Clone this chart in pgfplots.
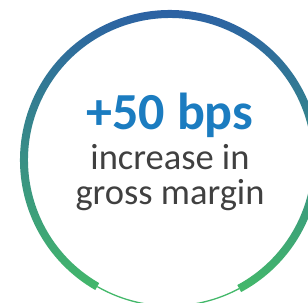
\documentclass[border=0pt]{standalone}
\usepackage{fontspec}
\setmainfont{Carlito}
\usepackage{pgfplots}
\pgfplotsset{compat=1.18}
\usetikzlibrary{calc}
\definecolor{cTop}{HTML}{2A5BA8}
\definecolor{cMid}{HTML}{2C9499}
\definecolor{cBot}{HTML}{43B86A}
\definecolor{cBlue}{HTML}{1B7CC0}
\definecolor{cGray}{HTML}{404040}
\begin{document}
\begin{tikzpicture}
\begin{axis}[
  width=308bp, height=303bp, scale only axis,
  xmin=0, xmax=308, ymin=0, ymax=303,
  hide axis, clip=true,
  clip bounding box=upper bound,
]
% ring: thick arc spans 301.8 deg, thin arc spans the remaining 58.2 deg
\shade[top color=cTop, middle color=cMid, bottom color=cBot]
  ($(axis cs:170,143)+(-61.7:150bp)$) arc[start angle=-61.7, end angle=240.1, radius=150bp]
  -- ($(axis cs:170,143)+(240.1:142bp)$) arc[start angle=240.1, end angle=-61.7, radius=142bp]
  -- cycle;
\draw[cBot, line width=1.3bp]
  ($(axis cs:170,143)+(240.1:146bp)$) arc[start angle=240.1, end angle=298.3, radius=146bp];
\node[anchor=base, text=cBlue, font=\fontsize{52bp}{52bp}\selectfont\bfseries, inner sep=0pt]
  at (axis cs:170,173) {+50 bps};
\node[anchor=base, text=cGray, font=\fontsize{36.5bp}{36.5bp}\selectfont, inner sep=0pt]
  at (axis cs:170,133) {increase in};
\node[anchor=base, text=cGray, font=\fontsize{36.5bp}{36.5bp}\selectfont, inner sep=0pt]
  at (axis cs:170,98) {gross margin};
\end{axis}
\end{tikzpicture}
\end{document}
